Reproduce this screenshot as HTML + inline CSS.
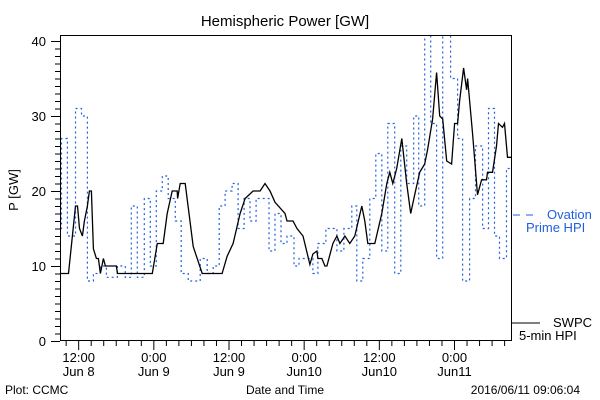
<!DOCTYPE html>
<html><head><meta charset="utf-8">
<style>
html,body{margin:0;padding:0;background:#fff;}
svg{display:block;font-family:"Liberation Sans",sans-serif;}
</style></head>
<body>
<svg id="chart" width="600" height="400" viewBox="0 0 600 400" xmlns="http://www.w3.org/2000/svg">
<rect width="600" height="400" fill="#fff"/>
<text x="285" y="26" font-size="15" text-anchor="middle">Hemispheric Power [GW]</text>
<text transform="translate(18,190) rotate(-90)" font-size="13" text-anchor="middle">P [GW]</text>
<g id="axes"></g>
<g id="series"></g>
<rect x="60.5" y="35.5" width="451" height="305" fill="none" stroke="#000" stroke-width="1"/>
<g>
<line x1="513" y1="215" x2="535" y2="215" stroke="#1f5fe0" stroke-dasharray="7,6"/>
<text x="547" y="219" font-size="13" fill="#1f5fe0">Ovation</text>
<text x="526" y="232" font-size="13" fill="#1f5fe0">Prime HPI</text>
<line x1="512" y1="323" x2="540" y2="323" stroke="#000"/>
<text x="553" y="327" font-size="13">SWPC</text>
<text x="519" y="340" font-size="13">5-min HPI</text>
</g>
<text x="5" y="394" font-size="12">Plot: CCMC</text>
<text x="285" y="394" font-size="12" text-anchor="middle">Date and Time</text>
<text x="580" y="394" font-size="12" text-anchor="end">2016/06/11 09:06:04</text>
</svg>
<script>
// hours since 2016/06/08 09:06
const swpcHours=[0,1.27,2.39,2.71,3.03,3.5,3.82,4.3,4.62,4.94,5.26,5.73,6.05,6.37,6.85,7.17,8.92,9.08,14.65,15.45,16.4,17.04,17.84,18.63,18.7,19.11,19.91,21.18,22.62,25.8,26.6,27.56,28.67,29.47,30.74,31.86,32.65,33.45,34.25,35.84,36.16,37.11,37.75,38.71,39.82,40.3,40.94,41.1,41.73,42.21,42.53,43.49,44.12,44.6,45.4,46.19,46.99,48.1,48.58,49.06,50.18,51.3,52.09,52.57,53.05,53.68,54.48,55.27,55.91,56.55,57.34,58.14,58.62,59.41,60.05,60.53,61.01,61.65,62.44,62.92,63.4,63.71,64.35,64.83,64.99,65.79,66.58,67.22,68.01,68.17,68.97,69.6,69.92,70.56,70.88,71.36,72];
const swpcValues=[9,9,18,18,15,14,16,18,20,20,12.3,11,11,9,11,10,10,9,9,13,13,17,20,20,19,21,21,12.6,9,9,11.3,13,17,19,20,20,21,20,18.5,17,16,16,15,14,10.2,11.6,12,11,11,10,10,13,14,13,14,13,14,18,16,13,13,17,21,22.5,21,23,27,21,17,19.5,22.5,23.6,25.6,29.6,35.8,30,29.6,24,23.6,29,29,32,36.4,33.5,35,27.6,19.5,21.5,21.5,22.5,22.5,26,29,28.5,29,24.5,24.5];
const ovationStartHours=[0,0.16,1.1,2.39,3.35,4.3,5.26,6.37,7.33,9.08,10.35,11.3,12.26,13.38,14.34,15.29,16.25,17.2,18.32,19.27,20.39,22.3,23.42,24.37,25.33,26.28,27.4,28.35,29.31,30.26,31.22,33.29,34.25,35.2,36.16,37.27,38.07,40.3,41.1,42.37,44.12,45.24,46.51,47.31,48.26,49.38,50.33,51.29,52.25,53.36,54.32,55.27,56.39,57.18,58.14,59.1,60.05,61.01,62.28,63.4,64.19,65.31,66.26,67.38,68.33,69.29,70.09,71.2];
const ovationValues=[15,27,14,31,30,8,9,10,8.5,10,8.5,18,8.5,19,10,20,22,19,16,9,8,11,9,10,18,20,21,15,19,16,19,12,17,13,14,10,11,9,13,15,12,15,18,8,11,19,25,12,29,9,26,21,30,18,42,29,11,42,35,27,8,19,26,15,31,14,11,23];
const yTickLabels=["0","10","20","30","40"];
const xTickLabels=[["12:00","Jun 8"],["0:00","Jun 9"],["12:00","Jun 9"],["0:00","Jun10"],["12:00","Jun10"],["0:00","Jun11"]];
const xTickHours=[2.9,14.9,26.9,38.9,50.9,62.9];

const X0=60.5,X1=511.5,Y0=341,YT=35.5;
const xS=h=>X0+h*(X1-X0)/72;
const yS=v=>Y0-v*7.5;
const NS="http://www.w3.org/2000/svg";
const axes=document.getElementById('axes'),ser=document.getElementById('series');
function mk(tag,attrs,parent){const e=document.createElementNS(NS,tag);for(const k in attrs)e.setAttribute(k,attrs[k]);parent.appendChild(e);return e;}
// y ticks
for(let v=0;v<=40;v++){
  const major=v%10===0;
  const t=mk('line',{x1:major?51:55,x2:60,y1:yS(v)+0.5,y2:yS(v)+0.5,stroke:'#000'},axes);
  
  
}
yTickLabels.forEach((s,i)=>{
  const t=mk('text',{x:46,y:yS(+s)+5,'font-size':13,'text-anchor':'end'},axes);
  t.textContent=s;
  
  
});
// x ticks
for(let h=xTickHours[0]-2;h<=72;h+=2){
  if(h<0)continue;
  const major=xTickHours.some(m=>Math.abs(m-h)<0.01);
  const t=mk('line',{x1:xS(h),x2:xS(h),y1:341,y2:major?350:346,stroke:'#000'},axes);
  
  
}
xTickLabels.forEach((p,i)=>{
  const x=xS(xTickHours[i]);
  const a=mk('text',{x:x,y:362,'font-size':13,'text-anchor':'middle'},axes);
  a.textContent=p[0];
  
  
  const b=mk('text',{x:x,y:376,'font-size':13,'text-anchor':'middle'},axes);
  b.textContent=p[1];
  
  
});
// clip
const defs=mk('defs',{},ser);
const cp=mk('clipPath',{id:'clip'},defs);
mk('rect',{x:X0,y:YT,width:X1-X0,height:Y0-YT},cp);
// ovation step
let d='';
ovationStartHours.forEach((h,i)=>{
  const x=xS(h),y=yS(ovationValues[i]);
  const xe=xS(i+1<ovationStartHours.length?ovationStartHours[i+1]:72);
  d+=(i===0?'M':'L')+x.toFixed(1)+','+y.toFixed(1)+'L'+xe.toFixed(1)+','+y.toFixed(1);
});
const op=mk('path',{d:d,fill:'none',stroke:'#1f5fe0','stroke-width':1.2,'stroke-dasharray':'2,3','clip-path':'url(#clip)'},ser);


// swpc line
let d2='';
swpcHours.forEach((h,i)=>{d2+=(i===0?'M':'L')+xS(h).toFixed(1)+','+yS(swpcValues[i]).toFixed(1);});
const sp=mk('path',{d:d2,fill:'none',stroke:'#000','stroke-width':1.3,'clip-path':'url(#clip)'},ser);


</script>
</body></html>
